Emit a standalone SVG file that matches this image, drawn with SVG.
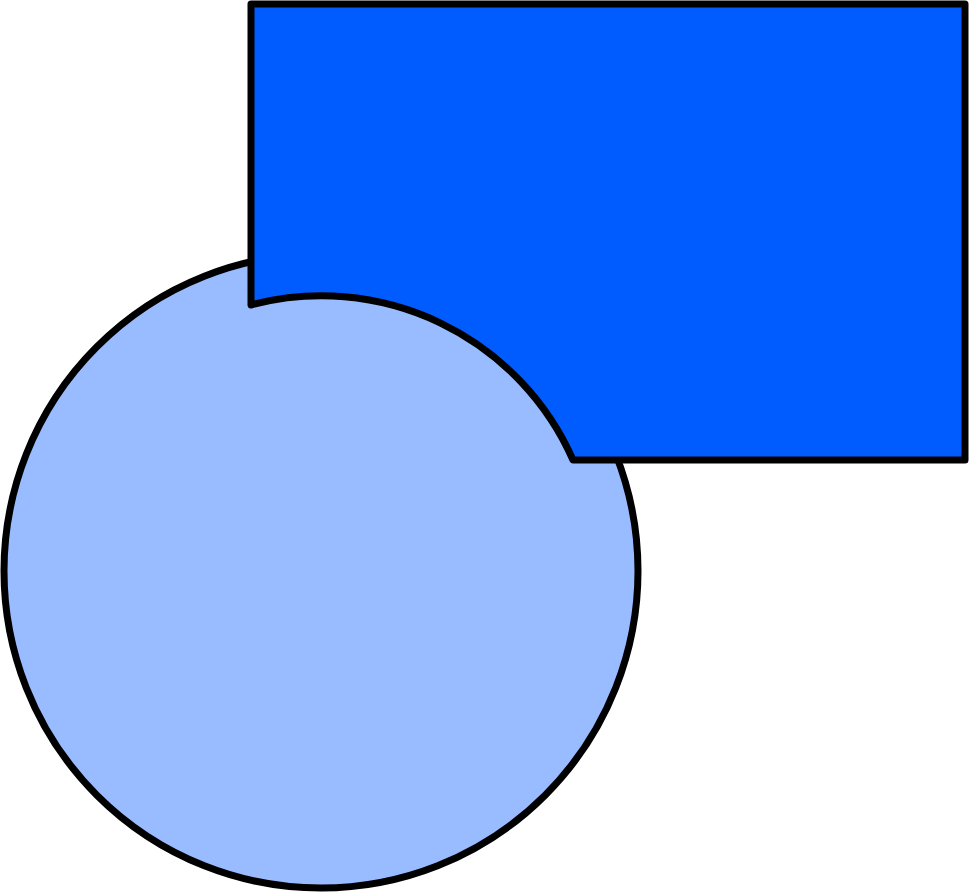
<svg xmlns="http://www.w3.org/2000/svg" width="969" height="895" viewBox="0 0 969 895">
<style>
.shape{stroke:#000;stroke-width:7;stroke-linejoin:round}
</style>
<rect width="969" height="895" fill="#fff"/>
<g id="circle">
<circle class="shape" cx="321" cy="571" r="317" fill="#99BBFF"/>
</g>
<g id="rect">
<path class="shape" d="M251,4 H965 V460 H573 A275,275 0 0 0 251,305 Z" fill="#005CFF"/>
</g>
<g id="connectors"></g>
</svg>
